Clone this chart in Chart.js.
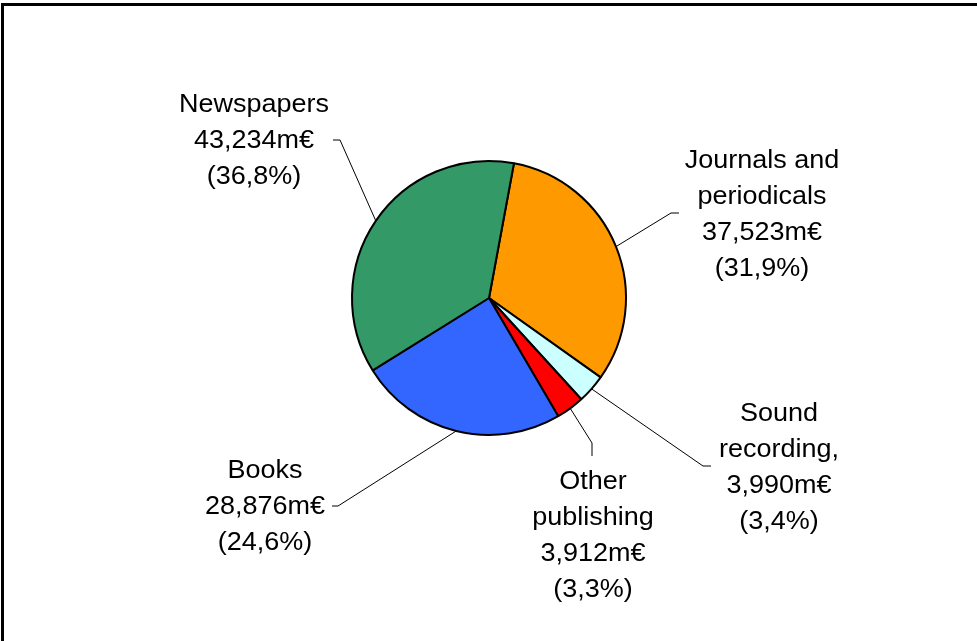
<!DOCTYPE html>
<html lang="en">
<head>
  <meta charset="UTF-8">
  <title>Publishing revenue</title>
  <script src="https://cdn.jsdelivr.net/npm/chart.js@4.4.0/dist/chart.umd.min.js"></script>
  <style>
    html, body { margin: 0; padding: 0; background: #fff; }
    #wrap { width: 977px; height: 641px; }
  </style>
</head>
<body>
<div id="wrap">
  <canvas id="pie-chart" width="977" height="641"></canvas>
</div>

<script>
  // sectors, clockwise from the top
  var sectors = ['Journals and periodicals', 'Sound recording,', 'Other publishing', 'Books', 'Newspapers'];
  var revenue = [37523, 3990, 3912, 28876, 43234];          // m€
  var shareLabels = ['31,9%', '3,4%', '3,3%', '24,6%', '36,8%'];
  var valueLabels = ['37,523m€', '3,990m€', '3,912m€', '28,876m€', '43,234m€'];
  var nameLines = [['Journals and', 'periodicals'], ['Sound', 'recording,'], ['Other', 'publishing'], ['Books'], ['Newspapers']];
  var sliceColors = ['#FF9900', '#CCFFFF', '#FF0000', '#3366FF', '#339966'];

  // where each label block sits and where its leader line bends
  var labelLayout = [
    { x: 762, y: 168, elbow: [671, 213], end: [679, 213] },
    { x: 779, y: 421, elbow: [703, 466], end: [711, 466] },
    { x: 593, y: 489, elbow: [592, 443], end: [592, 456] },
    { x: 265, y: 478, elbow: [338, 506], end: [332, 506] },
    { x: 254, y: 112, elbow: [340, 140], end: [333, 140] }
  ];

  var frame = {
    id: 'frame',
    beforeDraw: function(chart) {
      var c = chart.ctx;
      c.save();
      c.fillStyle = '#fff';
      c.fillRect(0, 0, chart.width, chart.height);
      c.strokeStyle = '#000';
      c.lineWidth = 3;
      c.strokeRect(2.5, 4.5, 1200, 900);
      c.restore();
    }
  };

  var sliceLabels = {
    id: 'sliceLabels',
    afterDatasetsDraw: function(chart) {
      var c = chart.ctx;
      var arcs = chart.getDatasetMeta(0).data;
      c.save();
      arcs.forEach(function(arc, i) {
        var p = arc.getProps(['x', 'y', 'startAngle', 'endAngle', 'outerRadius'], true);
        var mid = (p.startAngle + p.endAngle) / 2;
        var lay = labelLayout[i];

        // leader line from the middle of the slice edge
        c.strokeStyle = '#000';
        c.lineWidth = 1;
        c.beginPath();
        c.moveTo(p.x + Math.cos(mid) * p.outerRadius, p.y + Math.sin(mid) * p.outerRadius);
        c.lineTo(lay.elbow[0], lay.elbow[1]);
        c.lineTo(lay.end[0], lay.end[1]);
        c.stroke();

        var lines = nameLines[i].concat([valueLabels[i], '(' + shareLabels[i] + ')']);
        c.fillStyle = '#000';
        c.font = '25px "Liberation Sans", Arial, sans-serif';
        c.textAlign = 'center';
        c.textBaseline = 'alphabetic';
        lines.forEach(function(t, k) {
          c.save();
          c.translate(lay.x, lay.y + k * 36);
          c.scale(1.08, 1);
          c.fillText(t, 0, 0);
          c.restore();
        });
      });
      c.restore();
    }
  };

  var ctx = document.getElementById('pie-chart').getContext('2d');
  var pieChart = new Chart(ctx, {
    type: 'pie',
    data: {
      labels: sectors,
      datasets: [{
        data: revenue,
        backgroundColor: sliceColors,
        borderColor: '#000',
        borderWidth: 2
      }]
    },
    options: {
      responsive: false,
      animation: false,
      rotation: 10.5,
      layout: { padding: { top: 160, bottom: 205, left: 1, right: 0 } },
      plugins: {
        legend: { display: false },
        tooltip: { enabled: false }
      }
    },
    plugins: [frame, sliceLabels]
  });
</script>
</body>
</html>
